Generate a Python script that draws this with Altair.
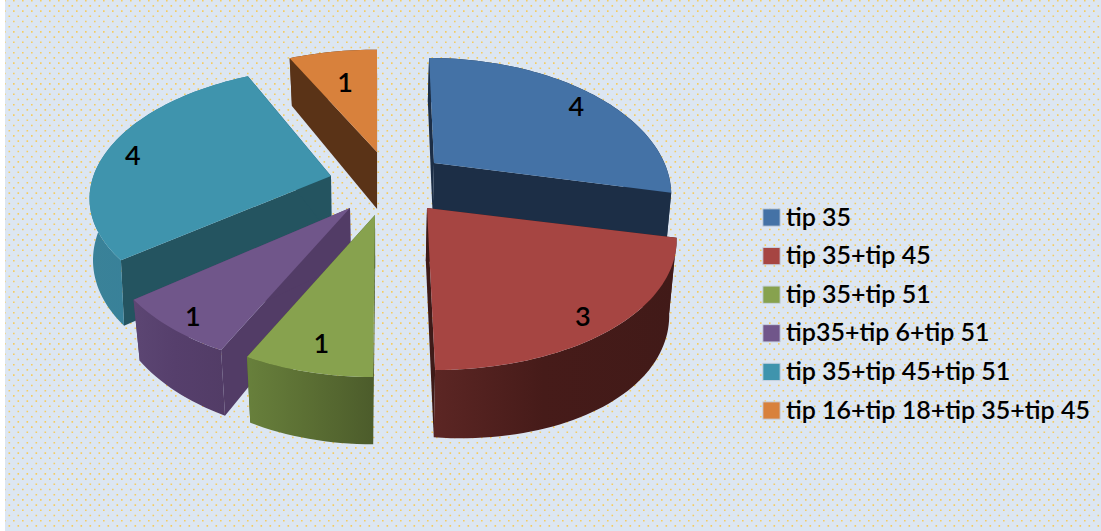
import math
import altair as alt

# Slice data, listed clockwise from twelve o'clock
names = ["tip 35", "tip 35+tip 45", "tip 35+tip 51", "tip35+tip 6+tip 51",
         "tip 35+tip 45+tip 51", "tip 16+tip 18+tip 35+tip 45"]
values = [4, 3, 1, 1, 4, 1]
top_colors = ["#4472a6", "#a64542", "#87a24e", "#70568a", "#3f94ad", "#d8813c"]
edge_colors = ["#1c2e46", "#3e1a18", "#4c5c2b", "#523c66", "#245460", "#5a3317"]
rim_left = ["#1c2e46", "#5c2624", "#68803c", "#5c4673", "#3a8298", "#5a3317"]
rim_mid = ["#1c2e46", "#461b19", "#5c7034", "#563f6c", "#37809a", "#5a3317"]
rim_right = ["#1c2e46", "#411a18", "#4c5c2b", "#523c66", "#347a90", "#5a3317"]

# Exploded position of each slice's tip, and small per-slice adjustments
apex_x = [434, 427, 375, 350, 331, 377]
apex_y = [163, 208, 215, 208, 176, 152]
skew = [0.047, 0.05, -0.012, 0.0, -0.09, 0.0]
spread = [0.96, 1.01, 0.98, 1.0, 0.99, 1.0]
reach = [1.0, 1.0, 1.0, 1.0, 124 / 127.4, 0.975]
persp = [0.2135, 0.2135, 0.2135, 0.2135, 0.1325, 0.2135]
depth = [53, 53, 53, 53, 60, 57]
converge = [0.025, 0.025, 0.025, 0.025, 0.012, 0.025]
label_at = [0.85, 0.88, 0.82, 0.88, 0.89, 0.70]
label_dx = [10, -9, 2, 1, 0, -1]
label_dy = [5, 5, 1, 5, 5, 2]

# Perspective of the disc
RX, RY = 240.0, 127.4
DEPTH_RIGHT = 20.0
VANISH_X = 380.0

DRAW_ORDER = [5, 4, 3, 2, 0, 1]
WIDTH, HEIGHT = 1101, 531


def project(i, theta, t=1.0):
    sx, cy = math.sin(theta) * t, math.cos(theta) * t
    d = 1 + persp[i] * cy
    dy = -RY * reach[i] * cy / d
    dx = RX * spread[i] * sx / d + skew[i] * dy
    return apex_x[i] + dx, apex_y[i] + dy


def drop(i, point, sx=0.0, cy=0.0):
    d = 1 + persp[i] * cy
    x, y = point
    return x - converge[i] * (x - VANISH_X), y + depth[i] / d + DEPTH_RIGHT * max(sx, 0.0)


def feature(ring, name=""):
    ring = [list(p) for p in ring] + [list(ring[0])]
    return {"type": "Feature", "properties": {"name": name},
            "geometry": {"type": "Polygon", "coordinates": [ring]}}


total = sum(values)
starts = [sum(values[:i]) / total * 2 * math.pi for i in range(len(values))]
ends = [sum(values[:i + 1]) / total * 2 * math.pi for i in range(len(values))]

proj = alt.Projection(type="identity", scale=1, translate=[0, 0])
layers = []

# Page background and its dotted texture
layers.append(alt.Chart(alt.Data(values=[{"a": 1}])).mark_rect(color="#dce6f2").encode(
    x=alt.value(5), x2=alt.value(WIDTH), y=alt.value(0), y2=alt.value(HEIGHT)))
rows = [{"row": 0.7 + 5.2 * k, "odd": k % 2} for k in range(102)]
for odd, offset in ((0, 1), (1, 5.5)):
    layers.append(alt.Chart(alt.Data(values=[r for r in rows if r["odd"] == odd])).mark_rule(
        color="#f3cc62", strokeWidth=1.6, strokeDash=[1.6, 7.4], strokeDashOffset=offset
    ).encode(x=alt.value(5), x2=alt.value(WIDTH), y=alt.Y("row:Q", scale=None, axis=None)))

# Side walls, painted back to front
for i in DRAW_ORDER:
    a, b = starts[i], ends[i]
    steps = max(8, values[i] * 16)
    angles = [a + (b - a) * k / steps for k in range(steps + 1)]
    top = [project(i, th) for th in angles]
    bottom = [drop(i, p, math.sin(th), math.cos(th)) for p, th in zip(top, angles)]
    apex = (apex_x[i], apex_y[i])
    apex_low = drop(i, apex)
    walls = [
        feature([apex, top[0], bottom[0], apex_low]),
        feature([apex, top[-1], bottom[-1], apex_low]),
    ]
    layers.append(alt.Chart(alt.Data(values=walls)).mark_geoshape(
        fill=edge_colors[i], stroke=None).project(**proj.to_dict()))
    rim = feature(top + bottom[::-1])
    shade = alt.Gradient(gradient="linear", x1=0, x2=1, y1=0, y2=0, stops=[
        alt.GradientStop(color=rim_left[i], offset=0),
        alt.GradientStop(color=rim_mid[i], offset=0.45),
        alt.GradientStop(color=rim_right[i], offset=1)])
    layers.append(alt.Chart(alt.Data(values=[rim])).mark_geoshape(
        fill=shade, stroke=None).project(**proj.to_dict()))

# Top faces, which also carry the legend
faces = []
for i in range(len(values)):
    a, b = starts[i], ends[i]
    steps = max(8, values[i] * 16)
    ring = [(apex_x[i], apex_y[i])] + [project(i, a + (b - a) * k / steps) for k in range(steps + 1)]
    faces.append(feature(ring, names[i]))
layers.append(alt.Chart(alt.Data(values=faces)).mark_geoshape(stroke=None).encode(
    color=alt.Color("properties.name:N",
                    scale=alt.Scale(domain=names, range=top_colors),
                    sort=names,
                    legend=alt.Legend(
                        title=None, orient="none", legendX=759, legendY=205,
                        symbolType="square", symbolSize=300, symbolStrokeWidth=1,
                        symbolStrokeColor="#c9d3e0", symbolOpacity=1,
                        labelFont="Lato", labelFontSize=25, labelFontWeight=600,
                        labelColor="#000000",
                        labelLimit=400, labelOffset=2, rowPadding=12.6))
).project(**proj.to_dict()))

# Value labels placed inside each slice
labels = []
for i, v in enumerate(values):
    lx, ly = project(i, (starts[i] + ends[i]) / 2, 1.0)
    labels.append({"lx": apex_x[i] + (lx - apex_x[i]) * label_at[i] + label_dx[i],
                   "ly": apex_y[i] + (ly - apex_y[i]) * label_at[i] + label_dy[i],
                   "v": str(v)})
layers.append(alt.Chart(alt.Data(values=labels)).mark_text(
    font="Lato", fontSize=27, fontWeight=600, color="#000000", align="center", baseline="middle"
).encode(x=alt.X("lx:Q", scale=None, axis=None), y=alt.Y("ly:Q", scale=None, axis=None),
         text="v:N"))

chart = alt.layer(*layers).properties(
    width=WIDTH, height=HEIGHT, padding=0,
    autosize=alt.AutoSizeParams(type="none"), background="#ffffff"
).configure_view(stroke=None)

chart.save("out.html", embed_options={"renderer": "svg", "actions": False})
